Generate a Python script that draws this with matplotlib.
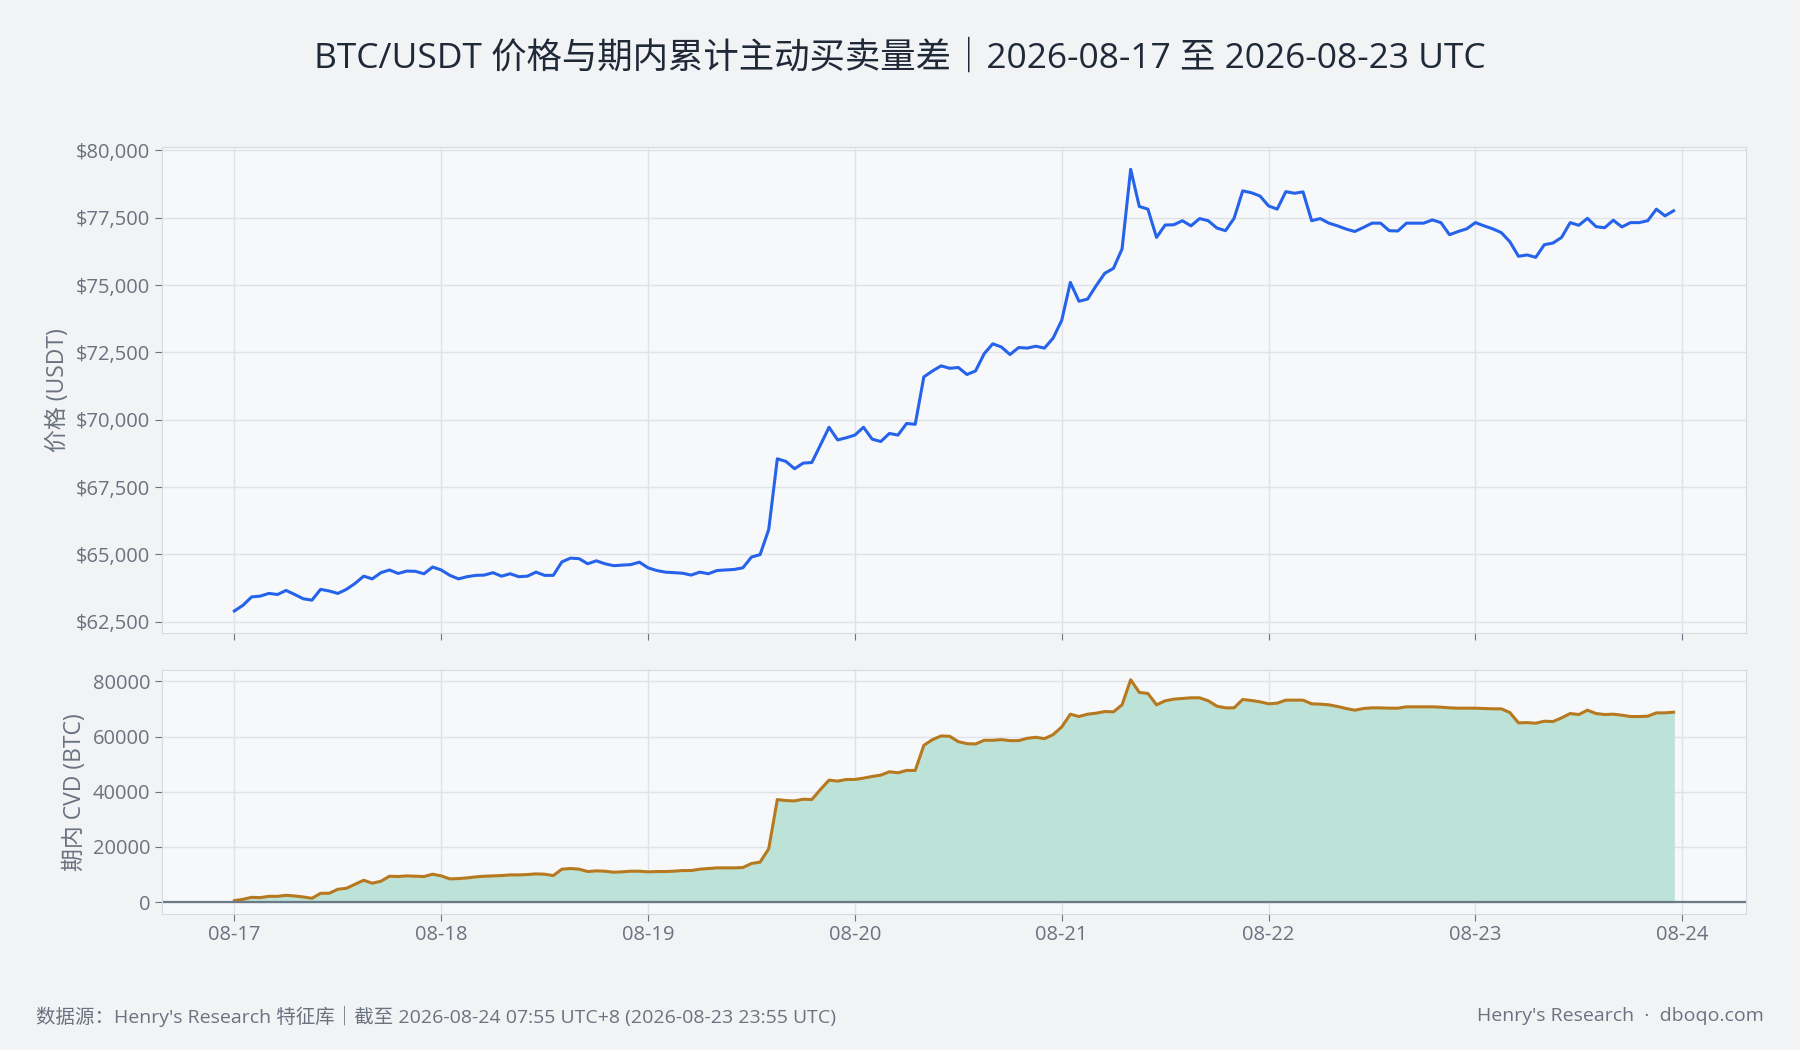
import numpy as np
import pandas as pd
import matplotlib
matplotlib.use("Agg")
import matplotlib.pyplot as plt
import matplotlib.dates as mdates
from matplotlib.ticker import FuncFormatter

plt.rcParams['font.family'] = ['Open Sans', 'Noto Sans CJK SC', 'DejaVu Sans']

# 每小时收盘价 (USDT), 2026-08-17 00:00 ~ 2026-08-23 23:00 UTC
price = [
    62898, 63110, 63420, 63450, 63550, 63510, 63660, 63510, 63350, 63300, 63700, 63640,
    63550, 63700, 63920, 64190, 64090, 64320, 64420, 64290, 64380, 64370, 64280, 64530,
    64420, 64220, 64090, 64170, 64220, 64230, 64320, 64190, 64280, 64170, 64190, 64340,
    64220, 64220, 64720, 64860, 64840, 64650, 64760, 64650, 64580, 64600, 64620, 64710,
    64500, 64400, 64340, 64320, 64300, 64230, 64340, 64280, 64400, 64420, 64440, 64500,
    64900, 64990, 65920, 68550, 68450, 68180, 68390, 68410, 69060, 69720, 69250, 69330,
    69430, 69720, 69280, 69190, 69490, 69430, 69860, 69830, 71590, 71810, 72000, 71910,
    71940, 71680, 71810, 72450, 72820, 72700, 72420, 72680, 72660, 72730, 72660, 73030,
    73690, 75100, 74400, 74480, 74980, 75440, 75620, 76340, 79300, 77920, 77820, 76770,
    77230, 77240, 77390, 77200, 77470, 77390, 77120, 77020, 77480, 78500, 78430, 78310,
    77940, 77820, 78470, 78410, 78460, 77390, 77470, 77300, 77200, 77080, 76990, 77140,
    77300, 77300, 77020, 77010, 77300, 77300, 77300, 77420, 77320, 76870, 76990, 77090,
    77320, 77200, 77090, 76950, 76610, 76070, 76120, 76030, 76500, 76560, 76770, 77320,
    77220, 77480, 77170, 77130, 77410, 77160, 77320, 77320, 77390, 77820, 77570, 77760,
]

# 期内累计主动买卖量差 (BTC)
cvd = [
    500, 970, 1700, 1580, 2060, 2060, 2430, 2190, 1820, 1340, 3160, 3160,
    4610, 4980, 6430, 7890, 6800, 7530, 9350, 9230, 9470, 9350, 9230, 10080,
    9470, 8380, 8500, 8740, 9110, 9350, 9470, 9590, 9830, 9830, 9960, 10200,
    10080, 9590, 11900, 12140, 11900, 11050, 11290, 11170, 10800, 10930, 11170, 11170,
    10930, 11050, 11050, 11170, 11410, 11410, 11900, 12140, 12380, 12380, 12380, 12500,
    13960, 14450, 19300, 37150, 36780, 36660, 37270, 37150, 40790, 44190, 43830, 44430,
    44430, 44920, 45530, 46010, 47230, 46860, 47710, 47710, 56820, 58880, 60210, 60090,
    58150, 57420, 57300, 58640, 58640, 58880, 58520, 58520, 59360, 59730, 59240, 60700,
    63490, 68110, 67260, 68110, 68470, 69080, 68960, 71500, 80610, 76000, 75630, 71500,
    72960, 73570, 73810, 74050, 74050, 72960, 71020, 70410, 70410, 73450, 73080, 72600,
    71870, 72110, 73200, 73200, 73200, 71870, 71750, 71500, 70900, 70170, 69560, 70170,
    70410, 70410, 70290, 70290, 70780, 70780, 70780, 70780, 70650, 70410, 70290, 70290,
    70290, 70170, 70050, 70050, 68710, 64950, 65070, 64830, 65560, 65440, 66770, 68350,
    67980, 69560, 68350, 67980, 68110, 67740, 67260, 67260, 67380, 68590, 68590, 68830,
]

times = pd.date_range("2026-08-17 00:00", periods=len(price), freq="h")

bg = "#f1f3f5"
face = "#f7f8fa"
grid_c = "#dfe3e8"
text_c = "#6b7280"

fig = plt.figure(figsize=(18, 10.5), dpi=100, facecolor=bg)
ax1 = fig.add_axes([0.09, 0.397, 0.88, 0.463])
ax2 = fig.add_axes([0.09, 0.130, 0.88, 0.232], sharex=ax1)

for ax in (ax1, ax2):
    ax.set_facecolor(face)
    ax.grid(True, color=grid_c, linewidth=1)
    ax.set_axisbelow(True)
    for s in ax.spines.values():
        s.set_color("#d5dae1")
    ax.tick_params(colors=text_c, labelsize=14.5, length=5, color="#6b7280")

ax1.plot(times, price, color="#2563eb", linewidth=2.2)
ax1.set_ylim(62074, 80128)
ax1.set_yticks(np.arange(62500, 80001, 2500))
ax1.yaxis.set_major_formatter(FuncFormatter(lambda v, p: f"${v:,.0f}"))
ax1.set_ylabel("价格 (USDT)", color=text_c, fontsize=16.5)
ax1.tick_params(axis="x", labelbottom=False)

ax2.fill_between(times, cvd, 0, color="#bde3d8")
ax2.plot(times, cvd, color="#b7791f", linewidth=2.2)
ax2.axhline(0, color="#6b7a86", linewidth=1.6)
ax2.set_ylim(-4170, 84170)
ax2.set_yticks([0, 20000, 40000, 60000, 80000])
ax2.set_ylabel("期内 CVD (BTC)", color=text_c, fontsize=16.5)

ax2.set_xlim(pd.Timestamp("2026-08-17") - pd.Timedelta(hours=8.4),
             pd.Timestamp("2026-08-17") + pd.Timedelta(hours=175.4))
ax2.xaxis.set_major_locator(mdates.DayLocator())
ax2.xaxis.set_major_formatter(mdates.DateFormatter("%m-%d"))

fig.text(0.5, 0.945, "BTC/USDT 价格与期内累计主动买卖量差｜2026-08-17 至 2026-08-23 UTC",
         ha="center", va="center", fontsize=25.5, color="#1f2937")
fig.text(0.02, 0.032, "数据源：Henry's Research 特征库｜截至 2026-08-24 07:55 UTC+8 (2026-08-23 23:55 UTC)",
         ha="left", va="center", fontsize=14, color=text_c)
fig.text(0.98, 0.032, "Henry's Research  ·  dboqo.com",
         ha="right", va="center", fontsize=14, color=text_c)

fig.savefig("out.png", dpi=100, facecolor=bg)
